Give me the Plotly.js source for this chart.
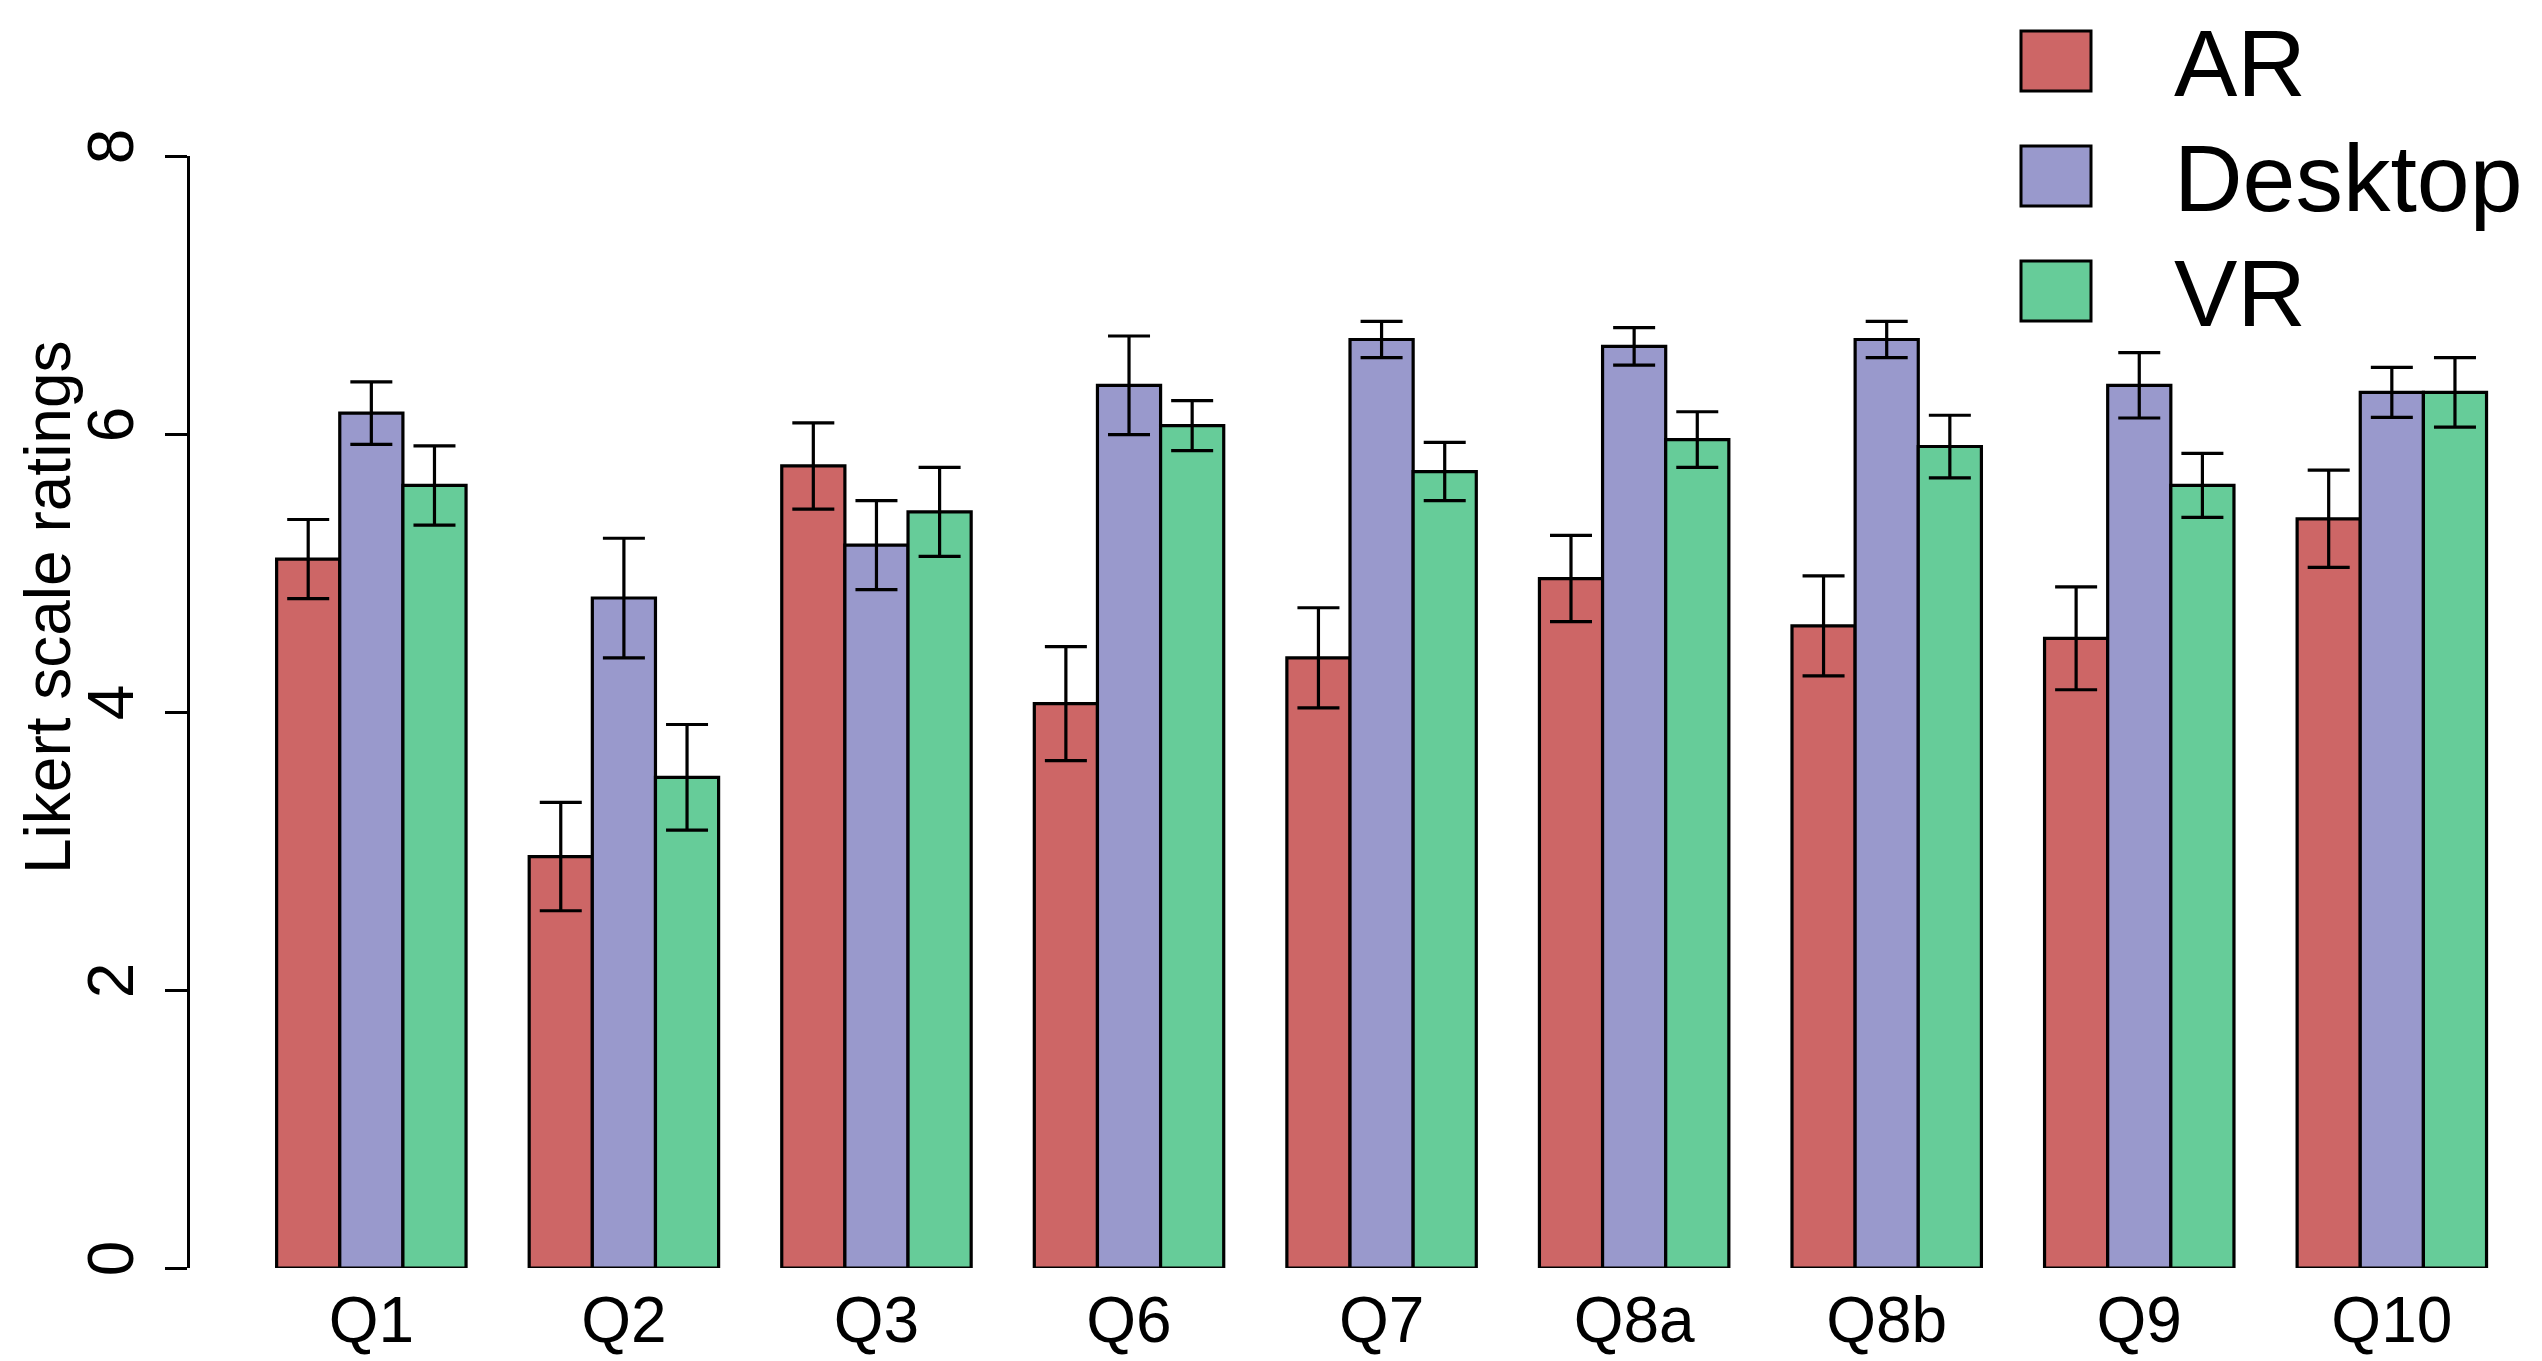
<!DOCTYPE html>
<html>
<head>
<meta charset="utf-8">
<script src="https://cdn.plot.ly/plotly-3.0.1.min.js"></script>
<style>html,body{margin:0;padding:0;background:#fff;overflow:hidden}#chart{width:2542px;height:1361px}</style>
</head>
<body>
<div id="chart"></div>
<script>
// ---- data ----
var categories = ["Q1", "Q2", "Q3", "Q6", "Q7", "Q8a", "Q8b", "Q9", "Q10"];
var seriesNames = ["AR", "Desktop", "VR"];
var arMeans      = [5.10, 2.96, 5.77, 4.06, 4.39, 4.96, 4.62, 4.53, 5.39];
var arErrors     = [0.285, 0.39, 0.31, 0.41, 0.36, 0.31, 0.36, 0.37, 0.35];
var desktopMeans = [6.15, 4.82, 5.20, 6.35, 6.68, 6.63, 6.68, 6.35, 6.30];
var desktopErrors= [0.225, 0.43, 0.32, 0.355, 0.13, 0.135, 0.13, 0.235, 0.18];
var vrMeans      = [5.63, 3.53, 5.44, 6.06, 5.73, 5.96, 5.91, 5.63, 6.30];
var vrErrors     = [0.285, 0.38, 0.32, 0.18, 0.21, 0.20, 0.225, 0.23, 0.25];
var yTickVals = [0, 2, 4, 6, 8];
var yTickText = ["0", "2", "4", "6", "8"];
var yTitle = "Likert scale ratings";

// ---- styles ----
var colors = ["#CD6666", "#9999CC", "#66CC99"];
var FONT = "Liberation Sans, Arial, Helvetica, sans-serif";
var W = 2542, H = 1361;
var M = {l: 190, r: 22, t: 156, b: 93};
var plotW = W - M.l - M.r, plotH = H - M.t - M.b;
function px2x(p) { return (p - M.l) / plotW; }
function px2y(p) { return (H - M.b - p) / plotH; }

var meansList = [arMeans, desktopMeans, vrMeans];
var errList = [arErrors, desktopErrors, vrErrors];
var traces = seriesNames.map(function (name, i) {
  return {
    type: "bar",
    name: name,
    x: categories,
    y: meansList[i],
    marker: {color: colors[i], line: {color: "#000", width: 3.2}},
    error_y: {type: "data", array: errList[i], visible: true, color: "#000", thickness: 3.2, width: 21},
    showlegend: false,
    hoverinfo: "none"
  };
});

// manual legend (large boxes like the reference)
var shapes = [], annotations = [];
var legendCenters = [61, 176, 291];
seriesNames.forEach(function (name, i) {
  var cy = legendCenters[i];
  shapes.push({
    type: "rect", xref: "paper", yref: "paper",
    x0: px2x(2021), x1: px2x(2091), y0: px2y(cy + 30), y1: px2y(cy - 30),
    fillcolor: colors[i], line: {color: "#000", width: 3}
  });
  annotations.push({
    xref: "paper", yref: "paper", x: px2x(2172), y: px2y(cy + 2),
    xanchor: "left", yanchor: "middle", showarrow: false,
    text: name, font: {family: FONT, size: 95, color: "#000"}
  });
});
annotations.push({
  xref: "paper", yref: "paper", x: px2x(48), y: px2y(607),
  xanchor: "center", yanchor: "middle", showarrow: false, textangle: -90,
  text: yTitle, font: {family: FONT, size: 64, color: "#000"}
});

var layout = {
  width: W, height: H,
  margin: M,
  paper_bgcolor: "#fff", plot_bgcolor: "#fff",
  font: {family: FONT, size: 64, color: "#000"},
  barmode: "group", bargap: 0.25, bargroupgap: 0,
  xaxis: {
    type: "category",
    range: [-0.718, 8.5075],
    showgrid: false, zeroline: false, showline: false, ticks: "",
    tickfont: {family: FONT, size: 64, color: "#000"},
    ticklabelstandoff: 9
  },
  yaxis: {
    range: [0, 8],
    tickvals: yTickVals, ticktext: yTickText,
    tickangle: -90,
    showgrid: false, zeroline: false,
    showline: true, linecolor: "#000", linewidth: 3.2,
    ticks: "outside", ticklen: 22, tickwidth: 3, tickcolor: "#000",
    tickfont: {family: FONT, size: 64, color: "#000"},
    ticklabelstandoff: 6
  },
  shapes: shapes,
  annotations: annotations,
  showlegend: false,
  hovermode: false
};

Plotly.newPlot("chart", traces, layout, {displayModeBar: false, staticPlot: true});
</script>
</body>
</html>
